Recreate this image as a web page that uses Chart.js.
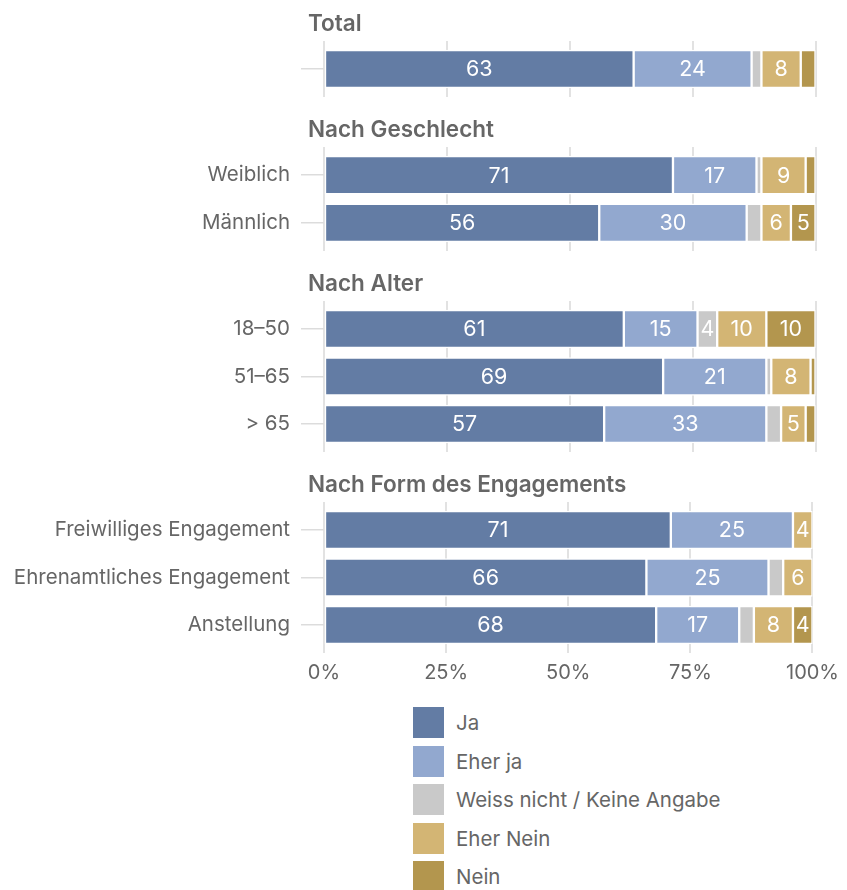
<!DOCTYPE html>
<html lang="de">
<head>
<meta charset="utf-8">
<script src="https://cdn.jsdelivr.net/npm/chart.js@4.4.1/dist/chart.umd.min.js"></script>
<style>
  body { margin: 0; background: #fff; font-family: Inter, sans-serif; }
  #wrap { position: relative; width: 847px; height: 890px; overflow: hidden; }
  canvas { display: block; }
  #legend { position: absolute; left: 413px; top: 707px; }
  .item { display: flex; align-items: center; height: 31px; margin-bottom: 7.5px; }
  .swatch { width: 31px; height: 31px; margin-right: 12px; flex: none; }
  .item span { font-size: 20.5px; color: #666; }
</style>
</head>
<body>
<div id="wrap">
  <canvas id="c0" width="847" height="97"></canvas>
  <canvas id="c1" width="847" height="154"></canvas>
  <canvas id="c2" width="847" height="201"></canvas>
  <canvas id="c3" width="847" height="239"></canvas>
  <div id="legend"></div>
</div>
<script>
const seriesNames = ['Ja', 'Eher ja', 'Weiss nicht / Keine Angabe', 'Eher Nein', 'Nein'];
const seriesColors = ['#637ca4', '#92a8cf', '#c9c9c9', '#d3b574', '#b3964e'];

const groupTitles = ['Total', 'Nach Geschlecht', 'Nach Alter', 'Nach Form des Engagements'];
const groupCategories = [
    [''],
    ['Weiblich', 'Männlich'],
    ['18–50', '51–65', '> 65'],
    ['Freiwilliges Engagement', 'Ehrenamtliches Engagement', 'Anstellung']
];

// one value per row, rows in the order of groupCategories
const ja         = [63, 71, 56, 61, 69, 57, 71, 66, 68];
const eherJa     = [24, 17, 30, 15, 21, 33, 25, 25, 17];
const weissNicht = [2, 1, 3, 4, 1, 3, 0, 3, 3];
const eherNein   = [8, 9, 6, 10, 8, 5, 4, 6, 8];
const nein       = [3, 2, 5, 10, 1, 2, 0, 0, 4];

const xTicks = [0, 25, 50, 75, 100];

const seriesValues = [ja, eherJa, weissNicht, eherNein, nein];
const TEXT = '#666';
const FONT = 'Inter';

// heading above each panel
const groupTitlePlugin = {
    id: 'groupTitle',
    afterDraw(chart, args, opts) {
        const { ctx, chartArea } = chart;
        ctx.save();
        ctx.font = `600 22.5px ${FONT}`;
        ctx.fillStyle = TEXT;
        ctx.textAlign = 'left';
        ctx.textBaseline = 'alphabetic';
        ctx.fillText(opts.text, chartArea.left - 16, chartArea.top - 10);
        ctx.restore();
    }
};

// white numbers inside the segments (only from 4 up)
const valueLabelPlugin = {
    id: 'valueLabels',
    afterDatasetsDraw(chart) {
        const { ctx } = chart;
        ctx.save();
        ctx.font = `21.5px ${FONT}`;
        ctx.fillStyle = '#fff';
        ctx.textAlign = 'center';
        ctx.textBaseline = 'middle';
        chart.data.datasets.forEach((ds, i) => {
            chart.getDatasetMeta(i).data.forEach((bar, j) => {
                const v = ds.data[j];
                if (v < 4) return;
                ctx.fillText(v, (bar.x + bar.base) / 2, bar.y + 1);
            });
        });
        ctx.restore();
    }
};

let offset = 0;
groupCategories.forEach((cats, g) => {
    const isLast = g === groupCategories.length - 1;
    const start = offset;
    offset += cats.length;

    new Chart(document.getElementById('c' + g), {
        type: 'bar',
        data: {
            labels: cats,
            datasets: seriesNames.map((name, s) => ({
                label: name,
                data: seriesValues[s].slice(start, start + cats.length),
                backgroundColor: seriesColors[s],
                borderColor: '#fff',
                borderWidth: 1.5,
                borderSkipped: false,
                barThickness: 38
            }))
        },
        plugins: [groupTitlePlugin, valueLabelPlugin],
        options: {
            indexAxis: 'y',
            responsive: false,
            animation: false,
            layout: { padding: { top: g === 0 ? 41 : 50, right: 31.5, left: 0, bottom: 0 } },
            scales: {
                x: {
                    stacked: true,
                    min: 0,
                    max: 100,
                    afterBuildTicks: scale => { scale.ticks = xTicks.map(v => ({ value: v })); },
                    afterFit: scale => { scale.height = isLast ? 38 : 0; },
                    border: { display: false },
                    grid: { color: '#e2e2e2', lineWidth: 2, drawTicks: false },
                    ticks: {
                        display: isLast,
                        padding: 8,
                        color: TEXT,
                        font: { family: FONT, size: 20 },
                        callback: v => v + '%'
                    }
                },
                y: {
                    stacked: true,
                    // ggplot-like padding of 0.59 rows around the panel
                    afterBuildTicks: scale => {
                        scale._startValue = -0.59;
                        scale._valueRange = cats.length - 1 + 1.18;
                    },
                    afterFit: scale => {
                        scale.width = 324;
                        scale.paddingTop = 0;
                        scale.paddingBottom = 0;
                    },
                    border: { display: false },
                    grid: {
                        offset: false,
                        drawOnChartArea: false,
                        drawTicks: true,
                        tickLength: 23,
                        color: '#dcdcdc',
                        lineWidth: 1.5
                    },
                    ticks: {
                        padding: 11,
                        color: TEXT,
                        font: { family: FONT, size: 20.5 }
                    }
                }
            },
            plugins: {
                legend: { display: false },
                tooltip: { enabled: false },
                groupTitle: { text: groupTitles[g] }
            }
        }
    });
});

const legend = document.getElementById('legend');
seriesNames.forEach((name, s) => {
    const item = document.createElement('div');
    item.className = 'item';
    item.innerHTML = `<div class="swatch" style="background:${seriesColors[s]}"></div><span>${name}</span>`;
    legend.appendChild(item);
});
</script>
</body>
</html>
